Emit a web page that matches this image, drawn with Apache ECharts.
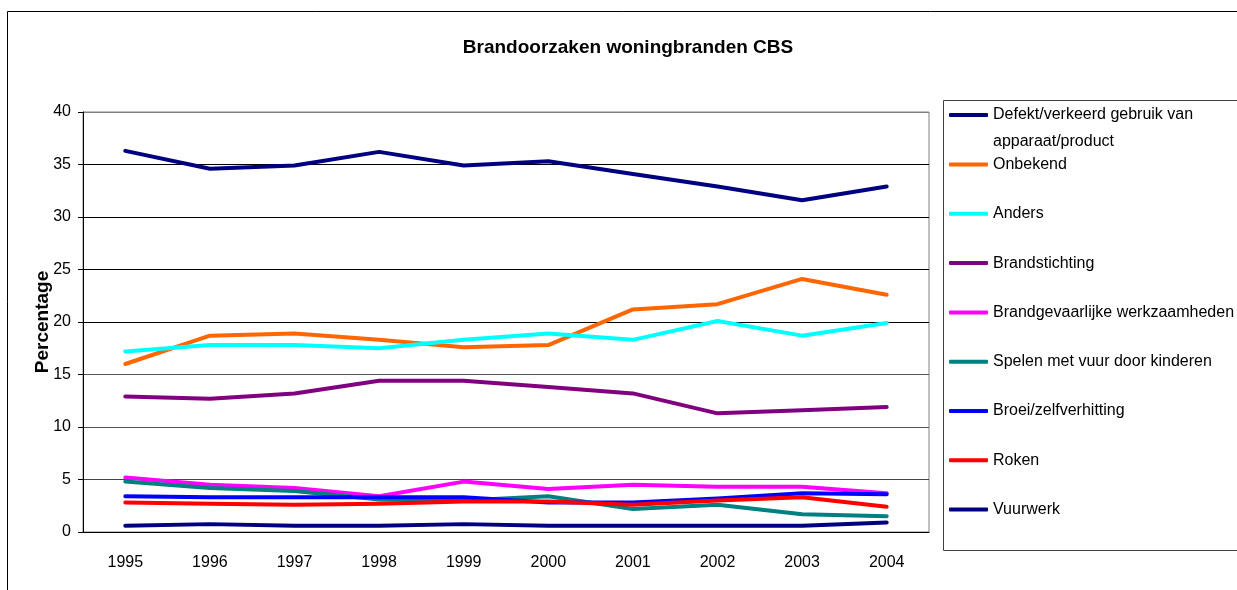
<!DOCTYPE html>
<html>
<head>
<meta charset="utf-8">
<title>Brandoorzaken woningbranden CBS</title>
<script src="https://cdn.jsdelivr.net/npm/echarts@6/dist/echarts.min.js"></script>
<style>
    html, body { margin: 0; padding: 0; background: #fff; }
    #main { width: 1237px; height: 590px; }
</style>
</head>
<body>
<div id="main"></div>
<script>
var years = ['1995', '1996', '1997', '1998', '1999', '2000', '2001', '2002', '2003', '2004'];

var defekt = [36.3, 34.6, 34.9, 36.2, 34.9, 35.3, 34.1, 32.9, 31.6, 32.9];
var onbekend = [16.0, 18.7, 18.9, 18.3, 17.6, 17.8, 21.2, 21.7, 24.1, 22.6];
var anders = [17.2, 17.8, 17.8, 17.5, 18.3, 18.9, 18.3, 20.1, 18.7, 19.9];
var brandstichting = [12.9, 12.7, 13.2, 14.4, 14.4, 13.8, 13.2, 11.3, 11.6, 11.9];
var brandgevaarlijk = [5.2, 4.5, 4.2, 3.4, 4.8, 4.1, 4.5, 4.3, 4.3, 3.7];
var spelen = [4.8, 4.2, 3.9, 3.1, 3.0, 3.4, 2.2, 2.6, 1.7, 1.5];
var broei = [3.4, 3.3, 3.3, 3.3, 3.3, 2.8, 2.8, 3.2, 3.7, 3.6];
var roken = [2.8, 2.7, 2.6, 2.7, 2.9, 2.9, 2.6, 3.0, 3.3, 2.4];
var vuurwerk = [0.6, 0.75, 0.6, 0.6, 0.75, 0.6, 0.6, 0.6, 0.6, 0.9];

var names = [
    'Defekt/verkeerd gebruik van apparaat/product',
    'Onbekend',
    'Anders',
    'Brandstichting',
    'Brandgevaarlijke werkzaamheden',
    'Spelen met vuur door kinderen',
    'Broei/zelfverhitting',
    'Roken',
    'Vuurwerk'
];
var values = [defekt, onbekend, anders, brandstichting, brandgevaarlijk, spelen, broei, roken, vuurwerk];
var colors = ['#000080', '#FF6600', '#00FFFF', '#800080', '#FF00FF', '#008080', '#0000FF', '#FF0000', '#000080'];

var font = 'Liberation Sans, Arial, sans-serif';

var myChart = echarts.init(document.getElementById('main'));

var series = names.map(function (n, i) {
    return {
        name: n,
        type: 'line',
        data: values[i],
        symbol: 'none',
        smooth: false,
        color: colors[i],
        lineStyle: { width: 4, color: colors[i], cap: 'round', join: 'round' }
    };
});

var legendBase = {
    orient: 'vertical',
    left: 949,
    padding: 0,
    icon: 'roundRect',
    itemWidth: 39,
    itemHeight: 4,
    textStyle: { fontFamily: font, fontSize: 16, color: '#000', lineHeight: 16 },
    selectedMode: false
};

var option = {
    animation: false,
    backgroundColor: '#fff',
    title: {
        text: 'Brandoorzaken woningbranden CBS',
        left: 623,
        textAlign: 'center',
        top: 33,
        textStyle: { fontFamily: font, fontSize: 19, fontWeight: 'bold', color: '#000' }
    },
    legend: [
        Object.assign({}, legendBase, {
            top: 74.5,
            data: [names[0]],
            // leading empty line keeps the icon level with the first text line
            formatter: function () {
                return '\nDefekt/verkeerd gebruik van\napparaat/product';
            },
            textStyle: { fontFamily: font, fontSize: 16, color: '#000', lineHeight: 27 }
        }),
        Object.assign({}, legendBase, {
            top: 156.5,
            itemGap: 33.3,
            data: names.slice(1)
        })
    ],
    grid: {
        left: 83,
        right: 308,
        top: 112,
        bottom: 58,
        show: true,
        borderColor: '#808080',
        borderWidth: 1
    },
    xAxis: {
        type: 'category',
        data: years,
        boundaryGap: true,
        axisLine: { lineStyle: { color: '#000', width: 1 } },
        axisTick: { length: 6, lineStyle: { color: '#000' } },
        axisLabel: { color: '#000', fontFamily: font, fontSize: 16, margin: 23 },
        splitLine: { show: false }
    },
    yAxis: {
        type: 'value',
        min: 0,
        max: 40,
        interval: 5,
        name: 'Percentage',
        nameLocation: 'middle',
        nameGap: 31,
        nameRotate: 90,
        nameMoveOverlap: false,
        nameTextStyle: { fontFamily: font, fontSize: 19, fontWeight: 'bold', color: '#000' },
        axisLine: { show: true, lineStyle: { color: '#000', width: 1 } },
        axisTick: { show: true, length: 5, lineStyle: { color: '#000' } },
        axisLabel: { color: '#000', fontFamily: font, fontSize: 16, margin: 12 },
        splitLine: {
            show: true,
            lineStyle: {
                color: ['#000', '#444', '#555', '#555', '#000', '#000', '#000', '#000', '#808080'],
                width: 1
            }
        }
    },
    graphic: [
        {
            type: 'rect',
            shape: { x: 7.5, y: 11.5, width: 1260, height: 620 },
            style: { fill: 'none', stroke: '#000', lineWidth: 1 },
            silent: true,
            z: -1
        },
        {
            type: 'rect',
            shape: { x: 943.5, y: 100.5, width: 320, height: 450 },
            style: { fill: 'none', stroke: '#404040', lineWidth: 1 },
            silent: true
        }
    ],
    series: series
};

myChart.setOption(option);
</script>
</body>
</html>
